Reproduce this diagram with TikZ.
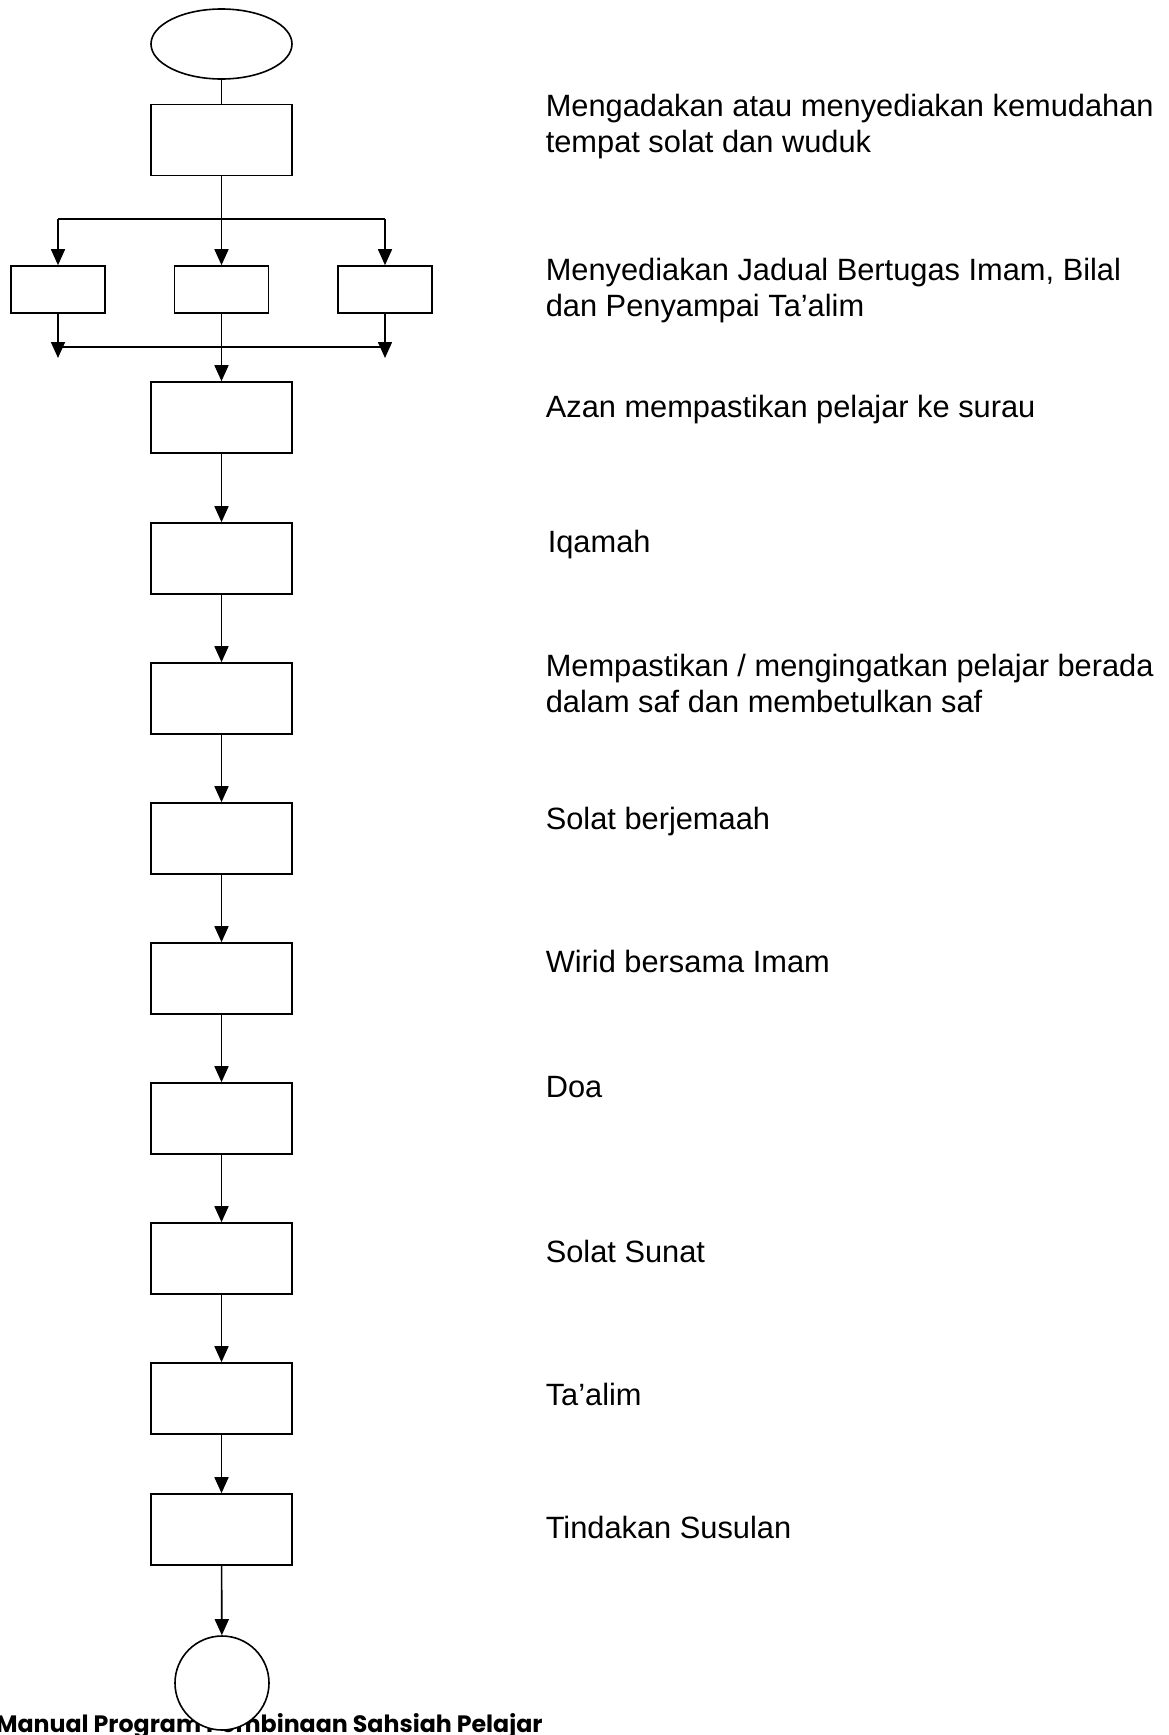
\documentclass[tikz,border=0pt]{standalone}
\usepackage{fontspec}
\setmainfont{Liberation Sans}
\newfontfamily\footfont{Poppins}
\usetikzlibrary{arrows.meta,shapes.geometric}
\newcommand{\twolines}[2]{\vtop{\hbox{#1}\hbox{#2}}}
\begin{document}
\begin{tikzpicture}[x=1pt,y=-1pt,
  line width=1.6pt,
  box/.style={draw, fill=white, rectangle, minimum width=141pt, minimum height=71pt, inner sep=0pt},
  sbox/.style={draw, fill=white, rectangle, minimum width=94pt, minimum height=47pt, inner sep=0pt},
  arr/.style={-{Triangle[length=16pt,width=14pt]}},
  desc/.style={anchor=base west, inner sep=0pt, font=\fontsize{30.8}{36}\selectfont},
  ]
\useasboundingbox (0,0) rectangle (1168,1735);
% shapes
\node[draw, ellipse, minimum width=141pt, minimum height=70pt, inner sep=0pt] (start) at (221.5,44) {};
\node[box] (b1) at (221.5,140) {};
\node[sbox] (s1) at (58,289.5) {};
\node[sbox] (s2) at (221.5,289.5) {};
\node[sbox] (s3) at (385,289.5) {};
\node[box] (b3) at (221.5,417.5) {};
\node[box] (b4) at (221.5,558.5) {};
\node[box] (b5) at (221.5,698.5) {};
\node[box] (b6) at (221.5,838.5) {};
\node[box] (b7) at (221.5,978.5) {};
\node[box] (b8) at (221.5,1118.5) {};
\node[box] (b9) at (221.5,1258.5) {};
\node[box] (b10) at (221.5,1398.5) {};
\node[box] (b11) at (221.5,1529.5) {};
% footer (under the end circle)
\node[anchor=base west, inner sep=0pt, font=\footfont\bfseries\fontsize{23.7}{28}\selectfont] (foot) at (-5,1732) {Manual Program Pembinaan Sahsiah Pelajar};
\node[draw, fill=white, circle, minimum size=94pt, inner sep=0pt] (end) at (222,1683) {};
% branch coordinates
\coordinate (split) at (221.5,219);
\coordinate (sl) at (58,219);
\coordinate (sr) at (385,219);
\coordinate (ml) at (58,358);
\coordinate (mr) at (385,358);
\coordinate (hl) at (58,347);
\coordinate (hr) at (385,347);
% connectors
\draw (start) -- (b1);
\draw (b1) -- (split);
\draw (sl) -- (sr);
\draw[arr] (sl) -- (s1);
\draw[arr] (split) -- (s2);
\draw[arr] (sr) -- (s3);
\draw[arr] (s1) -- (ml);
\draw[arr] (s3) -- (mr);
\draw (hl) -- (hr);
\draw[arr] (s2) -- (b3);
\draw[arr] (b3) -- (b4);
\draw[arr] (b4) -- (b5);
\draw[arr] (b5) -- (b6);
\draw[arr] (b6) -- (b7);
\draw[arr] (b7) -- (b8);
\draw[arr] (b8) -- (b9);
\draw[arr] (b9) -- (b10);
\draw[arr] (b10) -- (b11);
\draw[arr] (b11) -- (end);
% descriptions
\node[desc] (t1) at (545,116) {\twolines{Mengadakan atau menyediakan kemudahan}{tempat solat dan wuduk}};
\node[desc] (t2) at (545,280) {\twolines{Menyediakan Jadual Bertugas Imam, Bilal}{dan Penyampai Ta’alim}};
\node[desc] (t3) at (545,417) {Azan mempastikan pelajar ke surau};
\node[desc] (t4) at (547,552) {Iqamah};
\node[desc] (t5) at (545,676) {\twolines{Mempastikan / mengingatkan pelajar berada}{dalam saf dan membetulkan saf}};
\node[desc] (t6) at (545,829) {Solat berjemaah};
\node[desc] (t7) at (545,972) {Wirid bersama Imam};
\node[desc] (t8) at (545,1097) {Doa};
\node[desc] (t9) at (545,1262) {Solat Sunat};
\node[desc] (t10) at (545,1405) {Ta’alim};
\node[desc] (t11) at (545,1538) {Tindakan Susulan};
\end{tikzpicture}
\end{document}
